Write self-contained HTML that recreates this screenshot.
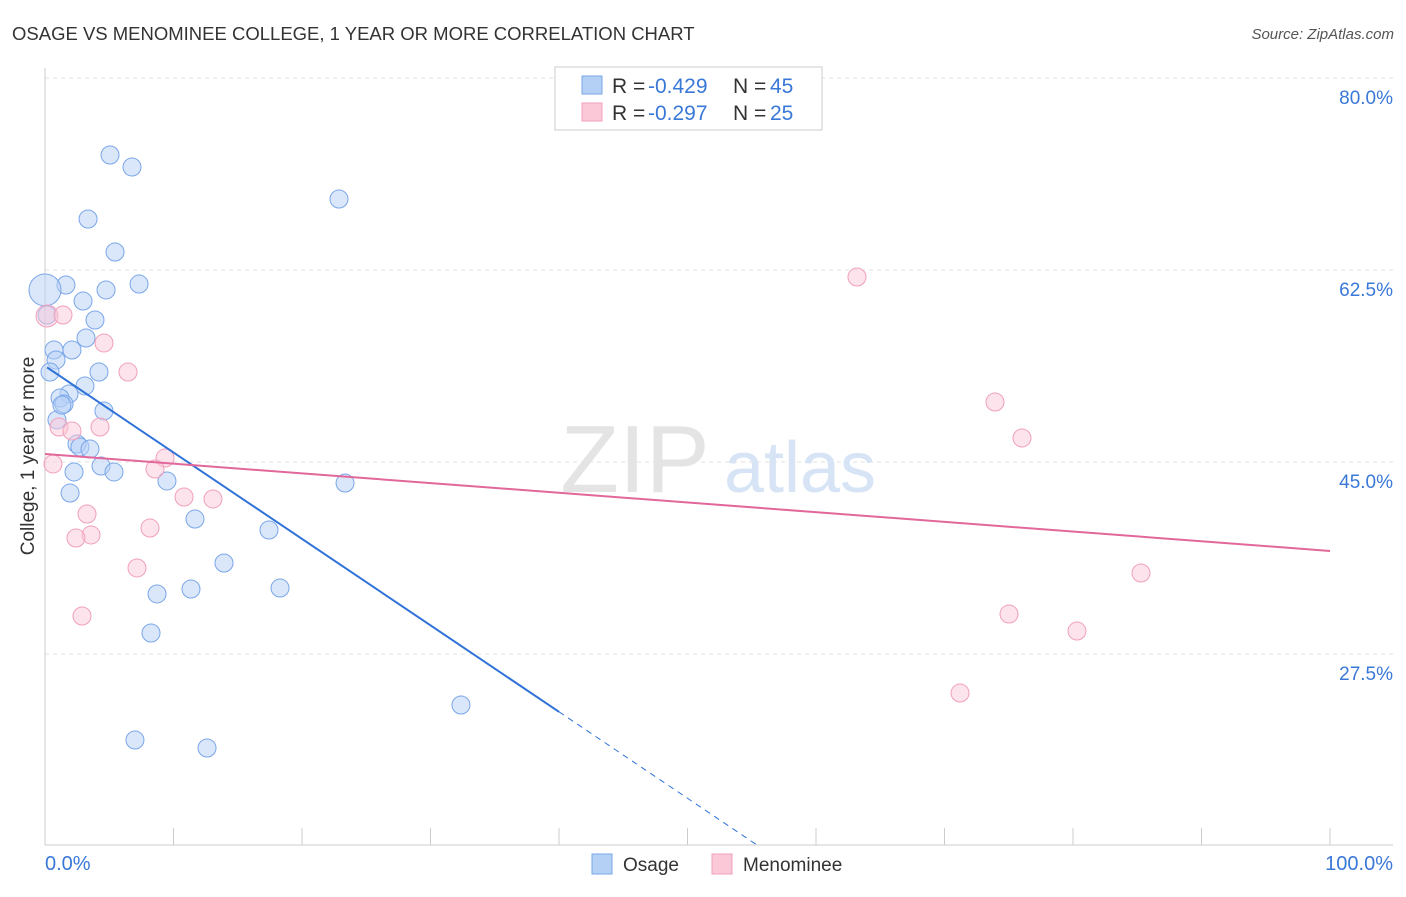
<!DOCTYPE html>
<html><head><meta charset="utf-8"><style>
body{margin:0;background:#fff;font-family:"Liberation Sans",sans-serif}
svg text{font-family:"Liberation Sans",sans-serif}
</style></head><body>
<svg id="chart" width="1406" height="892" xmlns="http://www.w3.org/2000/svg">
<text x="12" y="40" font-size="18.5" fill="#333">OSAGE VS MENOMINEE COLLEGE, 1 YEAR OR MORE CORRELATION CHART</text>
<text x="1394" y="39" font-size="15" fill="#555" text-anchor="end" font-style="italic">Source: ZipAtlas.com</text>
<g id="grid"></g>
<g><text x="635" y="492" font-size="96" fill="#e4e4e4" font-family="Liberation Serif" text-anchor="middle">ZIP</text><text x="800" y="492" font-size="72" fill="#d6e4f5" text-anchor="middle">atlas</text></g>
<line x1="45" y1="68" x2="45" y2="845" stroke="#ccc"/>
<line x1="45" y1="845" x2="1393" y2="845" stroke="#ccc"/>
<g id="xticks"></g>
<text x="45" y="870" font-size="20" fill="#3a78d8">0.0%</text>
<text x="1393" y="870" font-size="20" fill="#3a78d8" text-anchor="end">100.0%</text>
<text transform="translate(34,456) rotate(-90)" font-size="19" fill="#333" text-anchor="middle">College, 1 year or more</text>
<g id="marks"></g>
<g>
<rect x="555" y="67" width="267" height="63" fill="#fff" stroke="#ccc"/>
<rect x="582" y="76" width="20" height="18" fill="#b5d0f5" stroke="#7aa6e8"/>
<rect x="582" y="103" width="20" height="18" fill="#fbc8d8" stroke="#f0a0bb"/>
<text x="612" y="93" font-size="21" fill="#333">R = <tspan fill="#3a78d8" x="648">-0.429</tspan><tspan x="733">N = </tspan><tspan fill="#3a78d8" x="770">45</tspan></text>
<text x="612" y="120" font-size="21" fill="#333">R = <tspan fill="#3a78d8" x="648">-0.297</tspan><tspan x="733">N = </tspan><tspan fill="#3a78d8" x="770">25</tspan></text>
</g>
<g>
<rect x="592" y="854" width="20" height="20" fill="#b5d0f5" stroke="#7aa6e8"/>
<text x="623" y="871" font-size="19" fill="#333">Osage</text>
<rect x="712" y="854" width="20" height="20" fill="#fbc8d8" stroke="#f0a0bb"/>
<text x="743" y="871" font-size="19" fill="#333">Menominee</text>
</g>
</svg>
<script>
const yTicks=[80,62.5,45,27.5];
const yTickLabels=["80.0%","62.5%","45.0%","27.5%"];
const xTicks=[0,10,20,30,40,50,60,70,80,90,100];
const osageX=[5.06,6.77,22.88,3.35,5.45,1.63,7.32,4.75,2.96,3.89,3.19,2.10,0.70,0.86,0.39,4.20,3.11,1.87,1.17,1.48,4.59,0.93,2.49,2.72,3.50,4.36,5.37,2.26,9.49,23.35,1.95,11.67,17.43,13.93,11.36,18.29,8.72,8.25,32.37,7.00,12.61,0,0.16,1.32];
const osageY=[72.98,71.89,68.97,67.15,64.14,61.13,61.22,60.68,59.67,57.94,56.30,55.21,55.21,54.30,53.20,53.20,51.93,51.20,50.83,50.29,49.65,48.83,46.64,46.37,46.18,44.63,44.09,44.09,43.27,43.08,42.17,39.80,38.80,35.79,33.42,33.51,32.97,29.41,22.85,19.66,18.93,60.68,58.40,50.19];
const menX=[63.19,73.93,76.03,85.29,75.02,80.31,71.21,0.16,1.40,4.59,6.46,1.09,2.10,4.28,0.62,9.34,8.56,10.82,13.07,3.27,8.17,3.58,2.41,7.16,2.88];
const menY=[61.86,50.47,47.19,34.88,31.14,29.59,23.94,58.31,58.40,55.85,53.20,48.19,47.82,48.19,44.82,45.36,44.36,41.81,41.63,40.26,38.98,38.35,38.07,35.34,30.96];
const osageTrend=[53.75,-0.788];
const menTrend=[45.73,-0.0884];
const X=v=>45+v*12.85, Y=v=>78+(80-v)*10.971;
const NS="http://www.w3.org/2000/svg";
function mk(p,t,a){const e=document.createElementNS(NS,t);for(const k in a)e.setAttribute(k,a[k]);p.appendChild(e);return e;}
const grid=document.getElementById('grid');
yTicks.forEach((t,i)=>{
 const l=mk(grid,'line',{x1:45,x2:1393,y1:Y(t),y2:Y(t),stroke:'#e2e2e2','stroke-dasharray':'4,4'});
 
 
 const tx=mk(grid,'text',{x:1393,y:Y(t)+26,'font-size':19,fill:'#3a78d8','text-anchor':'end'});
 tx.textContent=yTickLabels[i];
 
 
});
const xt=document.getElementById('xticks');
xTicks.forEach(t=>{
 const l=mk(xt,'line',{x1:X(t),x2:X(t),y1:828,y2:845,stroke:'#ccc'});
 
 
});
const m=document.getElementById('marks');
function dots(xs,ys,fill,stroke,name){
 xs.forEach((x,i)=>{
  const r=(x===0&&name==='osage-point')?16:(x===0.16&&name==='menominee-point')?11:9;
  const c=mk(m,'circle',{cx:X(x),cy:Y(ys[i]),r:r,fill:fill,stroke:stroke,'stroke-width':1,'fill-opacity':0.5});
  
  
 });
}
dots(osageX,osageY,'#b5d0f5','#7aa6e8','osage-point');
dots(menX,menY,'#fbc8d8','#f0a0bb','menominee-point');
const bEndX=(10.1-osageTrend[0])/osageTrend[1];
let l=mk(m,'line',{x1:X(0.16),y1:Y(osageTrend[0]+osageTrend[1]*0.16),x2:X(40),y2:Y(osageTrend[0]+osageTrend[1]*40),stroke:'#2f72d8','stroke-width':2});


l=mk(m,'line',{x1:X(40),y1:Y(osageTrend[0]+osageTrend[1]*40),x2:X(bEndX),y2:Y(10.1),stroke:'#2f72d8','stroke-width':1,'stroke-dasharray':'6,5'});


l=mk(m,'line',{x1:X(0),y1:Y(menTrend[0]),x2:X(100),y2:Y(menTrend[0]+menTrend[1]*100),stroke:'#e2679a','stroke-width':2});


</script>
</body></html>
